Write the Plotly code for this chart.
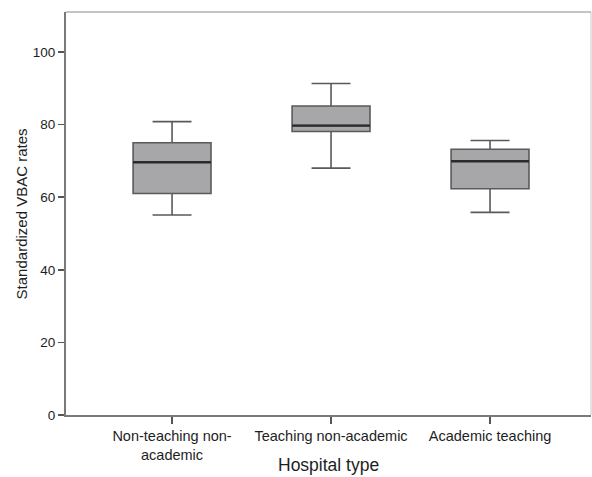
import plotly.graph_objects as go

categories = ["Non-teaching non-<br>academic", "Teaching non-academic", "Academic teaching"]
lower_whisker = [55.1, 68.0, 55.8]
q1_values = [61.0, 78.1, 62.3]
median_values = [69.6, 79.7, 69.9]
q3_values = [75.0, 85.1, 73.2]
upper_whisker = [80.8, 91.3, 75.6]
y_ticks = [0, 20, 40, 60, 80, 100]

box_width = 0.49
positions = list(range(len(categories)))

fig = go.Figure()
fig.add_trace(go.Box(
    x=positions,
    lowerfence=lower_whisker,
    q1=q1_values,
    median=median_values,
    q3=q3_values,
    upperfence=upper_whisker,
    width=box_width,
    whiskerwidth=0.5,
    fillcolor="#a7a7a9",
    line=dict(color="#5a5a5a", width=1.6),
    boxpoints=False,
    hoverinfo="skip",
    showlegend=False,
))

# darker, heavier median lines derived from the median data
mx, my = [], []
for p, m in zip(positions, median_values):
    mx += [p - box_width / 2, p + box_width / 2, None]
    my += [m, m, None]
fig.add_trace(go.Scatter(x=mx, y=my, mode="lines",
                         line=dict(color="#2b2b2b", width=2.4),
                         hoverinfo="skip", showlegend=False))

font_family = "Liberation Sans, Arial, sans-serif"
fig.update_layout(
    width=592, height=477,
    margin=dict(l=66, r=1, t=12, b=62),
    paper_bgcolor="white", plot_bgcolor="white",
    font=dict(family=font_family, size=13, color="#1e1e1e"),
    hovermode=False,
    xaxis=dict(
        range=[-0.667, 2.635],
        tickvals=positions, ticktext=categories,
        automargin=False,
        showline=True, linecolor="#7a7a7a", linewidth=2,
        ticks="outside", ticklen=7, tickwidth=2, tickcolor="#555555",
        showgrid=False, zeroline=False,
        tickfont=dict(size=14.5, color="#1e1e1e"),
    ),
    yaxis=dict(
        range=[0, 111],
        tickvals=y_ticks,
        automargin=False,
        showline=True, linecolor="#7a7a7a", linewidth=2,
        ticks="outside", ticklen=6, tickwidth=1.5, tickcolor="#555555",
        showgrid=False, zeroline=False,
        tickfont=dict(size=13.5, color="#1e1e1e"),
    ),
    annotations=[
        dict(text="Hospital type", xref="paper", yref="paper", x=0.5, y=-0.125,
             xanchor="center", yanchor="middle", showarrow=False,
             font=dict(size=17.5, color="#1e1e1e")),
        dict(text="Standardized VBAC rates", xref="paper", yref="paper", x=-0.084, y=0.5,
             xanchor="center", yanchor="middle", showarrow=False, textangle=-90,
             font=dict(size=15, color="#1e1e1e")),
    ],
    shapes=[
        dict(type="line", xref="paper", yref="paper", x0=0, x1=1, y0=1, y1=1,
             line=dict(color="#8a8a8a", width=1.2)),
        dict(type="line", xref="paper", yref="paper", x0=1, x1=1, y0=0, y1=1,
             line=dict(color="#c8c8c8", width=1)),
    ],
)

fig.write_html("out.html",
               config={"displayModeBar": False, "staticPlot": True},
               post_script="document.body.style.margin='0';document.body.style.overflow='hidden';")
